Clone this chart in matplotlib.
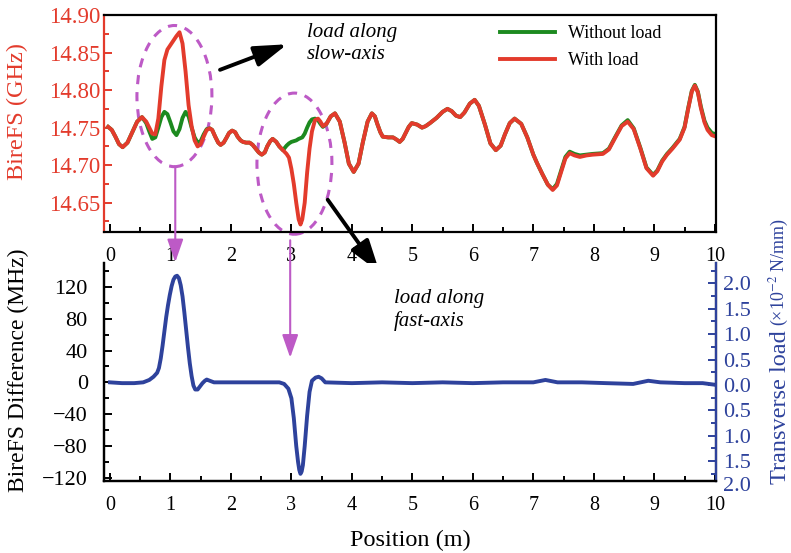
import numpy as np
import matplotlib
matplotlib.use("Agg")
import matplotlib.pyplot as plt
from matplotlib.patches import Ellipse
from matplotlib.ticker import MultipleLocator, FuncFormatter

plt.rcParams['font.family'] = ['Liberation Serif', 'DejaVu Serif']
plt.rcParams['mathtext.fontset'] = 'stix'

RED = '#e33b2c'
GREEN = '#1c8a1f'
BLUE = '#2e429c'
MAGENTA = '#bd5ac6'

# birefringence frequency shift along the fibre (GHz)
pos_top = [-0.03, 0.03, 0.09, 0.15, 0.21, 0.29, 0.37, 0.45, 0.53,
           0.60, 0.65, 0.70, 0.75, 0.80, 0.85, 0.90, 0.95, 1.00, 1.05,
           1.10, 1.15, 1.20, 1.25, 1.30, 1.35, 1.40, 1.45, 1.50, 1.55,
           1.60, 1.65, 1.69, 1.74, 1.79, 1.83, 1.88, 1.93, 1.97, 2.02,
           2.07, 2.11, 2.16, 2.20, 2.25, 2.31, 2.36, 2.41, 2.46, 2.51,
           2.56, 2.60, 2.65, 2.69, 2.75, 2.80, 2.86, 2.92, 2.96, 3.00,
           3.04, 3.08, 3.12, 3.15, 3.18, 3.22, 3.26, 3.30, 3.34, 3.39,
           3.44, 3.48, 3.52, 3.58, 3.65, 3.72, 3.80, 3.88, 3.95, 4.03,
           4.11, 4.18, 4.26, 4.33, 4.38, 4.42, 4.47, 4.51, 4.60, 4.68,
           4.74, 4.79, 4.84, 4.89, 4.94, 4.99, 5.08, 5.16, 5.22, 5.29,
           5.40, 5.50, 5.58, 5.65, 5.72, 5.79, 5.86, 5.95, 6.03, 6.10,
           6.20, 6.29, 6.38, 6.46, 6.53, 6.61, 6.69, 6.80, 6.90, 7.00,
           7.06, 7.15, 7.24, 7.32, 7.39, 7.46, 7.53, 7.60, 7.68, 7.77,
           7.88, 7.98, 8.15, 8.25, 8.35, 8.46, 8.56, 8.66, 8.77, 8.87,
           8.98, 9.05, 9.13, 9.21, 9.30, 9.42, 9.50, 9.56, 9.62, 9.67,
           9.72, 9.77, 9.83, 9.88, 9.95, 10.02]

bfs_with = [14.751, 14.747, 14.738, 14.728, 14.724, 14.730, 14.744, 14.758, 14.764,
            14.758, 14.750, 14.742, 14.741, 14.762, 14.805, 14.840, 14.854, 14.860, 14.866,
            14.872, 14.877, 14.862, 14.825, 14.780, 14.752, 14.733, 14.725, 14.728, 14.738,
            14.747, 14.749, 14.747, 14.738, 14.730, 14.727, 14.730, 14.737, 14.743, 14.746,
            14.744, 14.738, 14.733, 14.731, 14.730, 14.730, 14.727, 14.722, 14.717, 14.714,
            14.717, 14.725, 14.732, 14.735, 14.731, 14.725, 14.720, 14.715, 14.710, 14.695,
            14.675, 14.650, 14.628, 14.621, 14.628, 14.650, 14.690, 14.722, 14.745, 14.760,
            14.762, 14.758, 14.752, 14.755, 14.765, 14.769, 14.758, 14.730, 14.702, 14.691,
            14.702, 14.730, 14.758, 14.769, 14.765, 14.755, 14.744, 14.738, 14.737, 14.737,
            14.734, 14.731, 14.735, 14.743, 14.751, 14.756, 14.754, 14.750, 14.752, 14.756,
            14.763, 14.771, 14.775, 14.772, 14.766, 14.764, 14.770, 14.782, 14.787, 14.779,
            14.754, 14.729, 14.720, 14.726, 14.741, 14.756, 14.762, 14.755, 14.737, 14.714,
            14.703, 14.688, 14.674, 14.667, 14.673, 14.691, 14.709, 14.716, 14.713, 14.711,
            14.713, 14.714, 14.715, 14.721, 14.736, 14.752, 14.758, 14.748, 14.722, 14.696,
            14.686, 14.692, 14.705, 14.714, 14.722, 14.734, 14.750, 14.775, 14.798, 14.806,
            14.797, 14.776, 14.757, 14.747, 14.740, 14.738]

bfs_without = [14.751, 14.747, 14.738, 14.728, 14.724, 14.730, 14.744, 14.758, 14.764,
               14.756, 14.745, 14.735, 14.737, 14.750, 14.764, 14.771, 14.768, 14.757, 14.745,
               14.740, 14.748, 14.763, 14.771, 14.765, 14.750, 14.737, 14.730, 14.732, 14.741,
               14.748, 14.749, 14.747, 14.738, 14.730, 14.727, 14.730, 14.737, 14.743, 14.746,
               14.744, 14.738, 14.733, 14.731, 14.730, 14.730, 14.727, 14.722, 14.717, 14.714,
               14.717, 14.725, 14.732, 14.735, 14.731, 14.725, 14.720, 14.726, 14.729, 14.731,
               14.732, 14.733, 14.735, 14.736, 14.737, 14.742, 14.750, 14.757, 14.761, 14.762,
               14.760, 14.755, 14.751, 14.755, 14.765, 14.769, 14.758, 14.730, 14.702, 14.691,
               14.702, 14.730, 14.758, 14.769, 14.765, 14.755, 14.744, 14.738, 14.737, 14.737,
               14.734, 14.731, 14.735, 14.743, 14.751, 14.756, 14.754, 14.750, 14.752, 14.756,
               14.763, 14.771, 14.775, 14.772, 14.766, 14.764, 14.770, 14.782, 14.787, 14.779,
               14.754, 14.729, 14.720, 14.726, 14.741, 14.756, 14.762, 14.755, 14.737, 14.714,
               14.703, 14.688, 14.674, 14.668, 14.675, 14.693, 14.711, 14.718, 14.715, 14.713,
               14.714, 14.715, 14.716, 14.722, 14.737, 14.753, 14.760, 14.749, 14.723, 14.697,
               14.687, 14.693, 14.706, 14.715, 14.723, 14.735, 14.751, 14.776, 14.799, 14.807,
               14.798, 14.778, 14.759, 14.750, 14.743, 14.741]

# BireFS difference (MHz)
pos_diff = [0.00, 0.20, 0.40, 0.55, 0.65, 0.72, 0.78, 0.81, 0.84, 0.87,
            0.90, 0.93, 0.96, 0.99, 1.02, 1.05, 1.08, 1.11, 1.14, 1.17,
            1.20, 1.23, 1.26, 1.29, 1.32, 1.35, 1.38, 1.41, 1.45, 1.49,
            1.53, 1.57, 1.60, 1.65, 1.72, 2.00, 2.50, 2.80, 2.88, 2.95,
            3.00, 3.04, 3.08, 3.11, 3.13, 3.15, 3.17, 3.19, 3.22, 3.26,
            3.30, 3.34, 3.40, 3.45, 3.50, 3.56, 4.00, 4.50, 5.00, 5.50,
            6.00, 6.50, 7.00, 7.20, 7.40, 7.80, 8.20, 8.65, 8.90, 9.10,
            9.50, 9.80, 10.00]
bfs_diff = [0, -1, -1, 0, 3, 7, 12, 18, 30, 46,
            64, 82, 97, 110, 121, 129, 133, 134, 131, 122,
            108, 88, 66, 44, 24, 8, -4, -9, -9, -5,
            -1, 2, 3.5, 2, 0, 0, 0, 0, -2, -8,
            -20, -45, -80, -100, -110, -115, -112, -104, -80, -42,
            -12, 2, 6, 7, 5, 0, -1, 0, -1, 0,
            -1, 0, 0, 3, 0, 0, -1, -2, 2, 0,
            -1, -1, -3]

xticks = list(range(11))

W, H = 791, 553
fig = plt.figure(figsize=(W / 100, H / 100), dpi=100)


def fx(px):
    return px / W


def fy(py):
    return 1 - py / H


ax1 = fig.add_axes([fx(104.5), fy(232), fx(716) - fx(104.5), fy(15) - fy(232)])
ax2 = fig.add_axes([fx(104.5), fy(481), fx(716) - fx(104.5), fy(263) - fy(481)])
ax3 = ax2.twinx()

for ax in (ax1, ax2, ax3):
    for s in ax.spines.values():
        s.set_linewidth(1.6)

# upper panel
ax1.plot(pos_top, bfs_without, color=GREEN, lw=2.8, label='Without load')
ax1.plot(pos_top, bfs_with, color=RED, lw=2.8, label='With load')
ax1.set_xlim(-0.09, 10.02)
ax1.set_ylim(14.611, 14.90)
ax1.set_xticks(xticks)
ax1.xaxis.set_minor_locator(MultipleLocator(0.5))
ax1.yaxis.set_major_locator(MultipleLocator(0.05))
ax1.yaxis.set_minor_locator(MultipleLocator(0.025))
ax1.yaxis.set_major_formatter(FuncFormatter(lambda v, p: f'{v:.2f}'))
ax1.spines['left'].set_color(RED)
ax1.tick_params(axis='x', which='both', direction='in', labelsize=14.5, pad=11)
ax1.tick_params(axis='x', which='major', length=6, width=1.4)
ax1.tick_params(axis='x', which='minor', length=3.5, width=1.4)
ax1.tick_params(axis='y', which='both', direction='in', colors=RED,
                labelsize=16.5, pad=3, width=1.4)
ax1.tick_params(axis='y', which='major', length=6)
ax1.tick_params(axis='y', which='minor', length=3.5)

leg = ax1.legend(loc='upper left', bbox_to_anchor=(fx(500), fy(25)),
                 bbox_transform=fig.transFigure, frameon=False, fontsize=13,
                 handlelength=3.05, handletextpad=0.7, labelspacing=0.55,
                 borderpad=0, borderaxespad=0)

# lower panel
ax2.plot(pos_diff, bfs_diff, color=BLUE, lw=2.8)
ax2.set_xlim(-0.09, 10.02)
ax2.set_ylim(-124, 150)
ax2.set_xticks(xticks)
ax2.xaxis.set_minor_locator(MultipleLocator(0.5))
ax2.yaxis.set_major_locator(MultipleLocator(40))
ax2.yaxis.set_minor_locator(MultipleLocator(20))
ax2.spines['top'].set_visible(False)
ax2.tick_params(axis='x', which='both', direction='in', labelsize=14.5, pad=11)
ax2.tick_params(axis='x', which='major', length=6, width=1.4)
ax2.tick_params(axis='x', which='minor', length=3.5, width=1.4)
ax2.tick_params(axis='y', which='both', direction='in', labelsize=16, pad=12,
                width=1.4)
ax2.tick_params(axis='y', which='major', length=6)
ax2.tick_params(axis='y', which='minor', length=3.5)

ax3.set_ylim(-1.89, 2.40)
ax3.yaxis.set_major_locator(MultipleLocator(0.5))
ax3.yaxis.set_minor_locator(MultipleLocator(0.25))
ax3.yaxis.set_major_formatter(FuncFormatter(lambda v, p: f'{abs(v):.1f}'))
ax3.spines['top'].set_visible(False)
ax3.spines['right'].set_color(BLUE)
ax3.tick_params(axis='y', which='both', direction='in', colors=BLUE,
                labelsize=16, pad=5, width=1.4)
ax3.tick_params(axis='y', which='major', length=6)
ax3.tick_params(axis='y', which='minor', length=3.5)
ax3.annotate('2.0', xy=(1, -2.0), xycoords=('axes fraction', 'data'),
             xytext=(5, 0), textcoords='offset points', ha='left', va='center',
             fontsize=16, color=BLUE, annotation_clip=False)

# axis titles
fig.text(fx(17), fy(112), 'BireFS (GHz)', rotation=90, ha='center', va='center',
         fontsize=17.5, color=RED)
fig.text(fx(18), fy(370), 'BireFS Difference (MHz)', rotation=90, ha='center',
         va='center', fontsize=17, color='k')
fig.text(fx(410), fy(540), 'Position (m)', ha='center', va='center', fontsize=17.5)
fig.text(fx(781), fy(484), 'Transverse load', rotation=90, ha='center',
         va='bottom', fontsize=17.5, color=BLUE)
fig.text(fx(779), fy(326), r'(×10$^{-2}$ N/mm)', rotation=90, ha='center',
         va='bottom', fontsize=13, color=BLUE)

# loaded regions
for cx, cy in [(1.066, 14.792), (3.05, 14.702)]:
    ax1.add_patch(Ellipse((cx, cy), width=1.24, height=0.188, fill=False,
                          ec=MAGENTA, lw=2.2, ls=(0, (3, 2.6)), clip_on=False))

pink_head = '-|>,head_length=1.0,head_width=0.35'
ax2.annotate('', xy=(1.08, 151), xycoords='data',
             xytext=(1.08, 14.698), textcoords=ax1.transData,
             arrowprops=dict(arrowstyle=pink_head, color=MAGENTA, lw=1.5,
                             mutation_scale=14, shrinkA=0, shrinkB=0),
             annotation_clip=False)
ax2.annotate('', xy=(2.98, 31), xycoords='data',
             xytext=(2.98, 14.600), textcoords=ax1.transData,
             arrowprops=dict(arrowstyle=pink_head, color=MAGENTA, lw=1.5,
                             mutation_scale=14, shrinkA=0, shrinkB=0),
             annotation_clip=False)

black_head = '-|>,head_length=1.1,head_width=0.35'
ax1.annotate('', xy=(2.93, 14.861), xytext=(1.82, 14.827),
             arrowprops=dict(arrowstyle=black_head, color='k', lw=2.8,
                             mutation_scale=18, shrinkA=0, shrinkB=0),
             annotation_clip=False)
ax1.annotate('', xy=(4.46, 14.557), xytext=(3.60, 14.654),
             arrowprops=dict(arrowstyle=black_head, color='k', lw=2.8,
                             mutation_scale=18, shrinkA=0, shrinkB=0),
             annotation_clip=False)

ax1.text(3.26, 14.889, 'load along\nslow-axis', family='Liberation Serif',
         style='italic', fontsize=15, ha='left', va='top', linespacing=1.2)
ax2.text(4.69, 117, 'load along\nfast-axis', family='Liberation Serif',
         style='italic', fontsize=15, ha='left', va='top', linespacing=1.2)

fig.savefig('out.png', dpi=100)
